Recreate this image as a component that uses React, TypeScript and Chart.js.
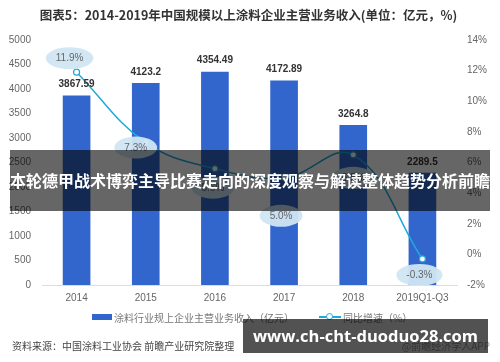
import React, { useEffect, useRef } from "react";
import { Chart, registerables } from "chart.js";

Chart.register(...registerables);

const categories = ["2014", "2015", "2016", "2017", "2018", "2019Q1-Q3"];
const revenue = [3867.59, 4123.2, 4354.49, 4172.89, 3264.8, 2289.5];
const revenueLabels = ["3867.59", "4123.2", "4354.49", "4172.89", "3264.8", "2289.5"];
const growth = [11.9, 7.3, 5.6, 5.0, 6.5, -0.3];
const growthLabels = ["11.9%", "7.3%", "5.6%", "5.0%", "6.5%", "-0.3%"];
const leftTicks = { min: 0, max: 5000, step: 500 };
const rightTicks = { min: -2, max: 14, step: 2 };

const revenueName = "涂料行业规上企业主营业务收入（亿元）";
const growthName = "同比增速（%）";
const titleText = "图表5：2014-2019年中国规模以上涂料企业主营业务收入(单位：亿元，%)";
const sourceText = "资料来源：中国涂料工业协会 前瞻产业研究院整理";
const bannerText = "本轮德甲战术博弈主导比赛走向的深度观察与解读整体趋势分析前瞻";
const urlText = "www.ch-cht-duoduo28.com";
const appText = "@前瞻经济学人APP";

// label placement relative to each line point (layout only)
const growthLabelOffsets = [
  [-7, -14],
  [-10, 5],
  [-2, 19],
  [-3, 38],
  [0, 23],
  [-3, 16],
];

const BAR_COLOR = "#3366CC";
const LINE_COLOR = "#1DA9DC";
const FONT = "'Liberation Sans', 'Noto Sans CJK SC', sans-serif";
const CJK = "'Noto Sans CJK SC', 'Liberation Sans', sans-serif";

const labelPlugin = {
  id: "customLabels",
  afterDatasetsDraw(chart: any) {
    const ctx = chart.ctx;
    const barMeta = chart.getDatasetMeta(0);
    ctx.save();
    ctx.font = `bold 10px ${FONT}`;
    ctx.fillStyle = "#333";
    ctx.textAlign = "center";
    ctx.textBaseline = "bottom";
    barMeta.data.forEach((el: any, i: number) => {
      ctx.fillText(revenueLabels[i], el.x, el.y - 6);
    });
    const lineMeta = chart.getDatasetMeta(1);
    lineMeta.data.forEach((el: any, i: number) => {
      const [dx, dy] = growthLabelOffsets[i];
      const cx = el.x + dx;
      const cy = el.y + dy;
      const text = growthLabels[i];
      ctx.font = `10px ${FONT}`;
      const w = ctx.measureText(text).width;
      ctx.beginPath();
      ctx.ellipse(cx, cy, w / 2 + 10, 11, 0, 0, Math.PI * 2);
      ctx.fillStyle = "rgba(208,230,242,0.95)";
      ctx.fill();
      ctx.fillStyle = "#666";
      ctx.textBaseline = "middle";
      ctx.fillText(text, cx, cy + 0.5);
    });
    ctx.restore();
  },
};

export default function App() {
  const ref = useRef<HTMLCanvasElement>(null);
  useEffect(() => {
    if (!ref.current) return;
    const chart = new Chart(ref.current, {
      type: "bar",
      data: {
        labels: categories,
        datasets: [
          {
            type: "bar",
            label: revenueName,
            data: revenue,
            backgroundColor: BAR_COLOR,
            yAxisID: "y",
            categoryPercentage: 0.8,
            barPercentage: 0.5,
            order: 2,
          },
          {
            type: "line",
            label: growthName,
            data: growth,
            borderColor: LINE_COLOR,
            borderWidth: 1.5,
            pointRadius: 3,
            pointBackgroundColor: "#fff",
            pointBorderColor: LINE_COLOR,
            pointBorderWidth: 1.2,
            tension: 0.4,
            yAxisID: "y1",
            order: 1,
          } as any,
        ],
      },
      options: {
        responsive: false,
        animation: false,
        layout: { padding: { top: 40, left: 0, right: 0, bottom: 0 } },
        plugins: {
          legend: { display: false },
          title: { display: false },
          tooltip: { enabled: false },
        },
        scales: {
          x: {
            grid: { display: false, drawTicks: false },
            border: { color: "#ddd" },
            ticks: { color: "#666", font: { size: 10, family: FONT }, padding: 7 },
            afterFit: (s: any) => {
              s.height = 77;
            },
          },
          y: {
            position: "left",
            min: leftTicks.min,
            max: leftTicks.max,
            grid: { display: false, drawTicks: false },
            border: { display: false },
            ticks: {
              stepSize: leftTicks.step,
              color: "#666",
              font: { size: 10, family: FONT },
              padding: 11,
              callback: (v: any) => String(v),
            },
            afterFit: (s: any) => {
              s.width = 42;
            },
          },
          y1: {
            position: "right",
            min: rightTicks.min,
            max: rightTicks.max,
            grid: { display: false, drawTicks: false },
            border: { display: false },
            ticks: {
              stepSize: rightTicks.step,
              color: "#666",
              font: { size: 10, family: FONT },
              padding: 10,
              callback: (v: any) => `${v}%`,
            },
            afterFit: (s: any) => {
              s.width = 43;
            },
          },
        },
      },
      plugins: [labelPlugin],
    });
    return () => chart.destroy();
  }, []);

  return (
    <div
      style={{
        position: "fixed",
        left: 0,
        top: 0,
        width: 500,
        height: 362,
        background: "#fff",
        overflow: "hidden",
        fontFamily: CJK,
      }}
    >
      <canvas ref={ref} width={500} height={362} style={{ position: "absolute", left: 0, top: 0 }} />
      <div
        style={{
          position: "absolute",
          left: 0,
          top: 6,
          width: 497,
          textAlign: "center",
          fontSize: 12.5,
          fontWeight: "bold",
          color: "#333",
          whiteSpace: "nowrap",
          lineHeight: "18px",
        }}
      >
        {titleText}
      </div>
      {/* legend */}
      <div
        style={{
          position: "absolute",
          left: 92,
          top: 309,
          height: 16,
          display: "flex",
          alignItems: "center",
          fontSize: 10,
          color: "#777",
          whiteSpace: "nowrap",
        }}
      >
        <span style={{ display: "inline-block", width: 20, height: 6, background: BAR_COLOR, marginRight: 2 }} />
        <span>{revenueName}</span>
        <span style={{ position: "relative", display: "inline-block", width: 22, height: 10, marginLeft: 25, marginRight: 2 }}>
          <span style={{ position: "absolute", left: 0, top: 4, width: 22, height: 2, background: LINE_COLOR }} />
          <span
            style={{
              position: "absolute",
              left: 7,
              top: 1,
              width: 5,
              height: 5,
              borderRadius: 5,
              border: `1.5px solid ${LINE_COLOR}`,
              background: "#fff",
            }}
          />
        </span>
        <span>{growthName}</span>
      </div>
      <div
        style={{
          position: "absolute",
          left: 12,
          top: 338,
          fontSize: 10,
          color: "#444",
          whiteSpace: "nowrap",
          lineHeight: "16px",
        }}
      >
        {sourceText}
      </div>
      <div
        style={{
          position: "absolute",
          right: 10,
          top: 338,
          fontSize: 10,
          color: "#999",
          whiteSpace: "nowrap",
          lineHeight: "16px",
        }}
      >
        {appText}
      </div>
      {/* overlays */}
      <div
        style={{
          position: "absolute",
          left: 10,
          top: 150,
          width: 480,
          height: 61,
          background: "rgba(0,0,0,0.6)",
          color: "#fff",
          fontWeight: "bold",
          fontSize: 16,
          lineHeight: "61px",
          textAlign: "center",
          whiteSpace: "nowrap",
        }}
      >
        {bannerText}
      </div>
      <div
        style={{
          position: "absolute",
          left: 243,
          top: 319,
          width: 245,
          height: 34,
          background: "rgba(0,0,0,0.68)",
          color: "#fff",
          fontWeight: "bold",
          fontSize: 16.5,
          lineHeight: "34px",
          paddingLeft: 10,
          boxSizing: "border-box",
          whiteSpace: "nowrap",
          fontFamily: "'Open Sans', 'Noto Sans', sans-serif",
        }}
      >
        {urlText}
      </div>
    </div>
  );
}
